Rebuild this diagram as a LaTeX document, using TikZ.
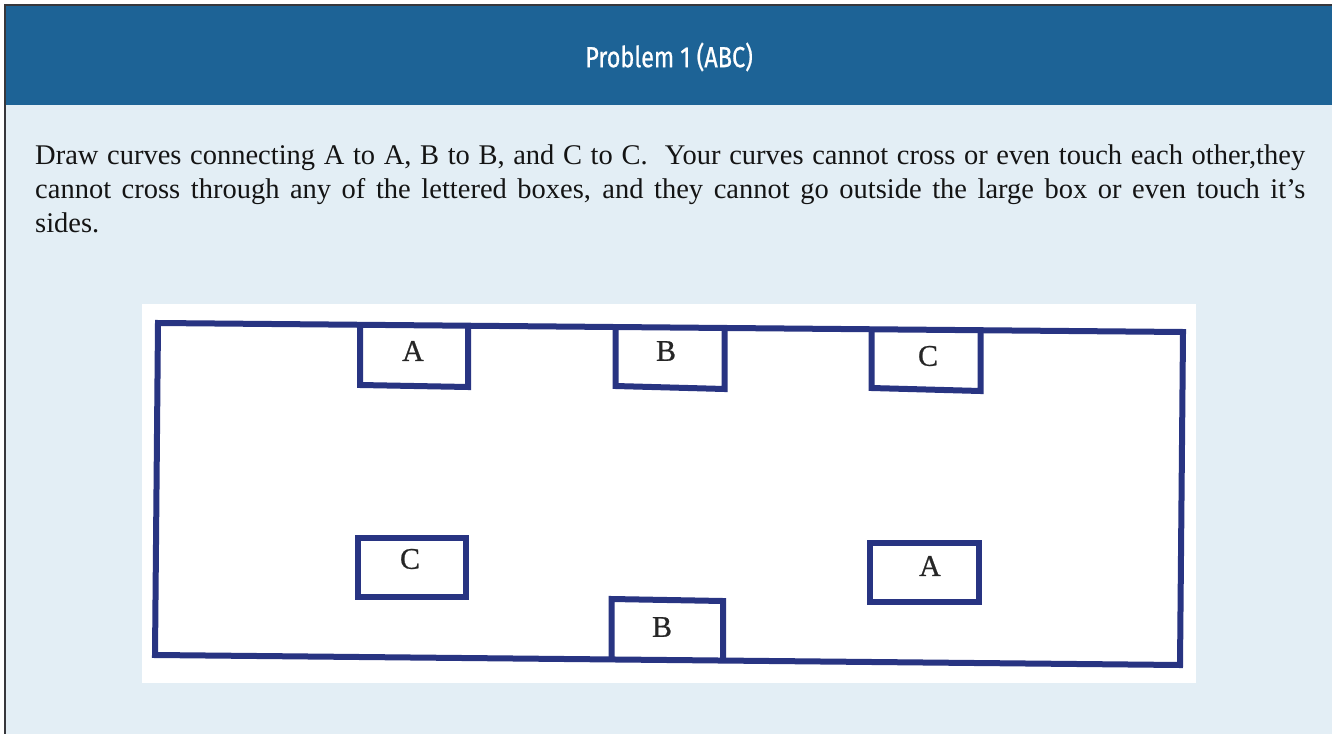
\documentclass[tikz,border=0pt]{standalone}
\usepackage{fontspec}
\setmainfont{Liberation Serif}
\newfontfamily\titlefont[FakeBold=0.8]{Fira Sans}
\newfontfamily\lblfont[FakeBold=0.7]{Liberation Serif}
\definecolor{hdr}{RGB}{29,99,150}
\definecolor{bodybg}{RGB}{227,238,245}
\definecolor{navy}{RGB}{40,52,130}
\definecolor{framecol}{RGB}{55,55,60}
\begin{document}
\begin{tikzpicture}[x=1pt,y=-1pt,
  bline/.style={draw=navy,line width=6pt,line join=miter},
  lbl/.style={font=\lblfont\fontsize{30}{30}\selectfont, inner sep=0pt, text=black!85},
  para/.style={anchor=base west, inner sep=0pt, font=\fontsize{28.5}{34}\selectfont, text=black!92}]
\useasboundingbox (0,0) rectangle (1332,733);
\clip (0,0) rectangle (1332,733);
\fill[white] (0,0) rectangle (1332,733);
\fill[bodybg] (5,5) rectangle (1345,745);
\fill[hdr] (5,5) rectangle (1345,105);
\draw[framecol, line width=2pt] (5,745) -- (5,5) -- (1345,5);
\node[inner sep=0pt, text=white, font=\titlefont\fontsize{29}{29}\selectfont] (title) at (669,57) {\scalebox{0.81}[1]{Problem 1 (ABC)}};
% paragraph
\node[para] (l1) at (35,164) {\makebox[1270pt][s]{Draw curves connecting A to A, B to B, and C to C.\ \ Your curves cannot cross or even touch each other,they}};
\node[para] (l2) at (35,198) {\makebox[1270pt][s]{cannot cross through any of the lettered boxes, and they cannot go outside the large box or even touch it’s}};
\node[para] (l3) at (35,232) {sides.};
% white inset
\fill[white] (142,304) rectangle (1196,683);
% big box
\draw[bline] (158,323) -- (1183,332) -- (1180,665) -- (155,655) -- cycle;
% top boxes
\draw[bline] (360,324.8) -- (360,385) -- (468,387) -- (468,325.7);
\draw[bline] (615.5,327) -- (615.5,386) -- (724.5,389) -- (724.5,328);
\draw[bline] (871.5,329.3) -- (871.5,388) -- (980.5,391) -- (980.5,330.2);
% bottom boxes
\draw[bline] (357.5,538) rectangle (466,597);
\draw[bline] (869.5,542.5) rectangle (979,602);
\draw[bline] (611.5,659.5) -- (611.5,599) -- (723,601) -- (723,660.5);
% labels
\node[lbl] (At) at (413,351) {A};
\node[lbl] (Bt) at (666,351) {B};
\node[lbl] (Ct) at (928,356) {C};
\node[lbl] (Cb) at (410,559) {C};
\node[lbl] (Ab) at (930,566) {A};
\node[lbl] (Bb) at (662,627) {B};
\end{tikzpicture}
\end{document}
